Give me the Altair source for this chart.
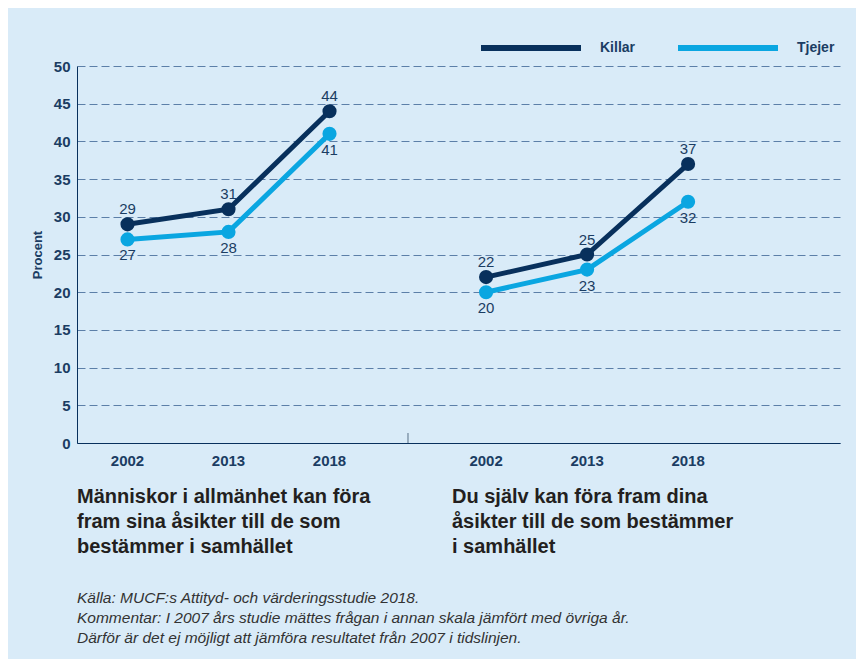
import altair as alt
import pandas as pd

# ---- data ----
years = ["2002", "2013", "2018"]
series = ["Killar", "Tjejer"]
group_titles = [
    "Människor i allmänhet kan föra\nfram sina åsikter till de som\nbestämmer i samhället",
    "Du själv kan föra fram dina\nåsikter till de som bestämmer\ni samhället",
]
killar_g1 = [29, 31, 44]
tjejer_g1 = [27, 28, 41]
killar_g2 = [22, 25, 37]
tjejer_g2 = [20, 23, 32]
y_ticks = list(range(0, 51, 5))
footer_lines = (
    "Källa: MUCF:s Attityd- och värderingsstudie 2018.\n"
    "Kommentar: I 2007 års studie mättes frågan i annan skala jämfört med övriga år.\n"
    "Därför är det ej möjligt att jämföra resultatet från 2007 i tidslinjen."
)

# ---- styling / layout ----
NAVY = "#08305c"
LIGHT = "#0aa6e1"
TXT = "#1b3d63"
BG = "#d9ebf8"
FONT = "Liberation Sans"
W, H = 763, 377
group_start = [0.5, 4.05]
divider_pos = 3.277

rows = []
for gi, (k, t) in enumerate([(killar_g1, tjejer_g1), (killar_g2, tjejer_g2)]):
    for s, vals in zip(series, (k, t)):
        for i, (yr, v) in enumerate(zip(years, vals)):
            rows.append(dict(group=gi, series=s, year=yr,
                             pos=group_start[gi] + i, value=v))
df = pd.DataFrame(rows)

xenc = alt.X("pos:Q", scale=alt.Scale(domain=[0, 7.554]),
             axis=alt.Axis(title=None, labels=False, ticks=False, grid=False,
                           domainColor=NAVY, domainWidth=1))
yenc = alt.Y("value:Q", scale=alt.Scale(domain=[0, 50]),
             axis=alt.Axis(values=y_ticks, title="Procent", grid=True,
                           gridDash=[8, 4], gridColor="#5c7fa8", gridWidth=1,
                           ticks=False, domainColor=NAVY, labelPadding=7,
                           labelOverlap=False,
                           labelFont=FONT, labelFontSize=15, labelFontWeight="bold",
                           labelColor=TXT, titleFont=FONT, titleFontSize=13,
                           titleFontWeight="bold", titleColor=TXT, titlePadding=9))

color = alt.Color("series:N", scale=alt.Scale(domain=series, range=[NAVY, LIGHT]),
                  legend=alt.Legend(title=None, orient="none", legendX=401, legendY=-71,
                                    direction="horizontal", symbolType="stroke",
                                    symbolSize=10000, symbolStrokeWidth=6,
                                    labelFont=FONT, labelFontSize=14,
                                    labelFontWeight="bold", labelColor=TXT,
                                    labelOffset=16, columnPadding=30, padding=0))

base = alt.Chart(df)

lines = base.mark_line(strokeWidth=5).encode(x=xenc, y=yenc, color=color, detail="group:N")
points = base.mark_circle(size=200, opacity=1).encode(
    x=xenc, y=yenc,
    fill=alt.Fill("series:N", scale=alt.Scale(domain=series, range=[NAVY, LIGHT]), legend=None))

lab_k = base.transform_filter(alt.datum.series == "Killar").mark_text(
    dy=-15, font=FONT, fontSize=15, color=TXT).encode(x=xenc, y=yenc, text="value:Q")
lab_t = base.transform_filter(alt.datum.series == "Tjejer").mark_text(
    dy=16, font=FONT, fontSize=15, color=TXT).encode(x=xenc, y=yenc, text="value:Q")

year_labels = base.transform_filter(alt.datum.series == "Killar").mark_text(
    font=FONT, fontSize=15, fontWeight="bold", color=TXT, baseline="middle").encode(
    x=xenc, y=alt.value(H + 18), text="year:N")

divider = alt.Chart(pd.DataFrame({"pos": [divider_pos]})).mark_rule(
    color="#5a6f86", strokeWidth=1).encode(x=xenc, y=alt.value(H - 10), y2=alt.value(H))

titles_df = pd.DataFrame({"t": group_titles, "gx": [0, 375]})
titles = alt.Chart(titles_df).mark_text(
    align="left", baseline="alphabetic", font=FONT, fontSize=20, fontWeight="bold",
    color="#231f20", lineBreak="\n", lineHeight=25).encode(
    x=alt.X("gx:Q", scale=None), y=alt.value(437), text="t:N")

footer = alt.Chart(pd.DataFrame({"t": [footer_lines]})).mark_text(
    align="left", baseline="alphabetic", font=FONT, fontSize=15.5, fontStyle="italic",
    color="#333333", lineBreak="\n", lineHeight=20).encode(
    x=alt.value(0), y=alt.value(537), text="t:N")

chart = alt.layer(lines, points, lab_k, lab_t, year_labels, divider, titles, footer).properties(
    width=W, height=H, background=BG,
    autosize=alt.AutoSizeParams(type="none"),
    padding={"left": 69, "top": 58, "right": 16, "bottom": 216},
).configure_view(stroke=None, fill=BG)

chart.save("out.html", embed_options={"renderer": "svg", "actions": False})
